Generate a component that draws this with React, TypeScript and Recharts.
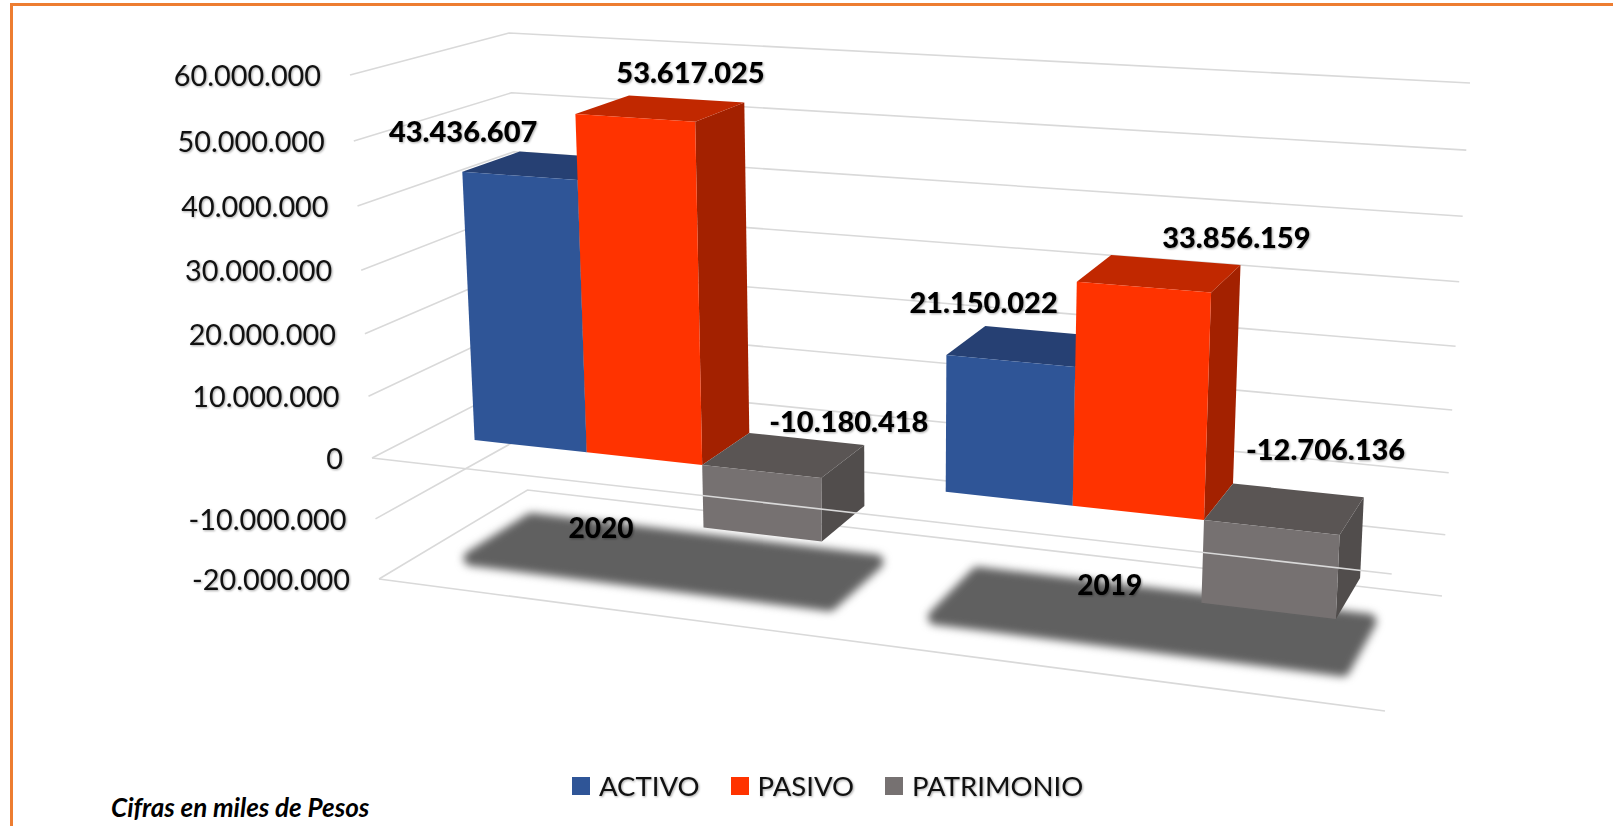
import { Bar, BarChart, CartesianGrid, LabelList, Legend, ReferenceLine, XAxis, YAxis } from "recharts";

const categories = ["2020", "2019"];
const activo = [43436607, 21150022];
const pasivo = [53617025, 33856159];
const patrimonio = [-10180418, -12706136];
const yTicks = [-20000000, -10000000, 0, 10000000, 20000000, 30000000, 40000000, 50000000, 60000000];

const data = categories.map((year, i) => ({
  year,
  activo: activo[i],
  pasivo: pasivo[i],
  patrimonio: patrimonio[i],
}));

const WIDTH = 1613;
const HEIGHT = 826;
const PLOT = { left: 60, top: 40, width: 1500, height: 686 };
const FONT = "Lato, sans-serif";
const GRID = "#d9d9d9";
const TEXT_SHADOW = "drop-shadow(1px 1px 1px rgba(0,0,0,0.35))";

// screen corners of the 3D box: F/B = front/back, L/R = left/right, top = 60M, bot = -20M
const FL = { top: [350, 75], bot: [379, 579] };
const FR = { top: [1413, 140], bot: [1385, 711] };
const BL = { top: [509, 33], bot: [527.5, 490] };
const BR = { top: [1470, 83], bot: [1442, 596] };
const BAR_FRONT = 0.31;
const BAR_BACK = 0.69;

const mix = (a: number[], b: number[], k: number) => [a[0] + (b[0] - a[0]) * k, a[1] + (b[1] - a[1]) * k];

// flat chart pixel -> picture pixel, w is depth (0 front, 1 back)
function project(flatX: number, flatY: number, w: number) {
  const U = (flatX - PLOT.left) / PLOT.width;
  const t0 = (PLOT.top + PLOT.height - flatY) / PLOT.height;
  const u = (0.88 * U) / (1 - 0.12 * U);
  const t = t0 - 0.053 * t0 * (1 - t0);
  const left = mix(mix(FL.bot, FL.top, t), mix(BL.bot, BL.top, t), w);
  const right = mix(mix(FR.bot, FR.top, t), mix(BR.bot, BR.top, t), w);
  return mix(left, right, u);
}

const pts = (list: number[][]) => list.map((p) => `${p[0].toFixed(1)},${p[1].toFixed(1)}`).join(" ");

const FLOOR_Y = PLOT.top + PLOT.height;

function makeBar(front: string, top: string, side: string, withShadow: boolean) {
  return function Bar3D(props: any) {
    const { x, y, width, height } = props;
    const y1 = Math.min(y, y + height);
    const y2 = Math.max(y, y + height);
    const x2 = x + width;
    const a = project(x, y1, BAR_FRONT);
    const b = project(x2, y1, BAR_FRONT);
    const c = project(x2, y2, BAR_FRONT);
    const d = project(x, y2, BAR_FRONT);
    const e = project(x, y1, BAR_BACK);
    const f = project(x2, y1, BAR_BACK);
    const g = project(x2, y2, BAR_BACK);
    const groupLeft = x - 13;
    const groupRight = x + width * 3 + 13;
    return (
      <g>
        {withShadow && (
          <polygon
            points={pts([
              project(groupLeft, FLOOR_Y, 0.3),
              project(groupRight, FLOOR_Y, 0.3),
              project(groupRight, FLOOR_Y, 0.72),
              project(groupLeft, FLOOR_Y, 0.72),
            ])}
            fill="#606060"
            stroke="#606060"
            strokeWidth={15}
            strokeLinejoin="round"
            style={{ filter: "blur(4px)" }}
          />
        )}
        <polygon points={pts([b, f, g, c])} fill={side} />
        <polygon points={pts([a, e, f, b])} fill={top} />
        <polygon points={pts([a, b, c, d])} fill={front} />
      </g>
    );
  };
}

const formatValue = (v: number) => String(v).replace(/\B(?=(\d{3})+(?!\d))/g, ".");

function GridLine(props: any) {
  const { y1 } = props;
  const fl = project(PLOT.left, y1, 0);
  const bl = project(PLOT.left, y1, 1);
  const br = project(PLOT.left + PLOT.width, y1, 1);
  const isFloor = Math.abs(y1 - FLOOR_Y) < 1;
  const fr = project(PLOT.left + PLOT.width, y1, 0);
  return (
    <g key={props.key ?? y1}>
      <polyline points={pts([fl, bl, br])} fill="none" stroke={GRID} strokeWidth={1.6} />
      {isFloor && <line x1={fl[0]} y1={fl[1]} x2={fr[0]} y2={fr[1]} stroke={GRID} strokeWidth={1.6} />}
    </g>
  );
}

function ZeroLine(props: any) {
  const y = props.y1 ?? props.y;
  const a = project(PLOT.left, y, 0);
  const b = project(PLOT.left + PLOT.width, y, 0);
  return <line x1={a[0]} y1={a[1]} x2={b[0]} y2={b[1]} stroke={GRID} strokeWidth={1.6} />;
}

function YTick(props: any) {
  const p = project(PLOT.left, props.y, 0);
  return (
    <text x={p[0] - 29} y={p[1] + 11} textAnchor="end" fontFamily={FONT} fontSize={28.8} fill="#111" style={{ filter: TEXT_SHADOW }}>
      {formatValue(props.payload.value)}
    </text>
  );
}

const yearOffsets = [
  [-70, -33],
  [-40, -36],
];

function YearTick(props: any) {
  const p = project(props.x, FLOOR_Y, 0.5);
  const off = yearOffsets[props.index];
  return (
    <text x={p[0] + off[0]} y={p[1] + off[1] + 10} textAnchor="middle" fontFamily={FONT} fontWeight={900} fontSize={28} fill="#000" style={{ filter: TEXT_SHADOW }}>
      {props.payload.value}
    </text>
  );
}

function makeLabel(offsets: number[][]) {
  return function ValueLabel(props: any) {
    const { x, y, width, height, value, index } = props;
    const p = project(x + width / 2, Math.min(y, y + height), 0.5);
    return (
      <text x={p[0] + offsets[index][0]} y={p[1] + offsets[index][1] + 10} textAnchor="middle" fontFamily={FONT} fontWeight={900} fontSize={29} fill="#000" style={{ filter: TEXT_SHADOW }}>
        {formatValue(value)}
      </text>
    );
  };
}

function LegendRow(props: any) {
  return (
    <div style={{ display: "flex", fontFamily: FONT, fontSize: 27.5, color: "#111", lineHeight: "30px" }}>
      {props.payload.map((item: any) => (
        <div key={item.value} style={{ display: "flex", alignItems: "center", marginRight: 31 }}>
          <span style={{ width: 18, height: 18, background: item.color, marginRight: 9 }} />
          <span style={{ filter: TEXT_SHADOW }}>{item.value}</span>
        </div>
      ))}
    </div>
  );
}

export default function App() {
  return (
    <div style={{ position: "absolute", left: 0, top: 0, width: WIDTH, height: HEIGHT, overflow: "hidden", background: "#fff" }}>
      <div style={{ position: "absolute", left: 10, top: 3, width: 1800, height: 1000, borderTop: "3px solid #ed7d31", borderLeft: "3px solid #ed7d31" }} />
      <BarChart
        width={WIDTH}
        height={HEIGHT}
        data={data}
        margin={{ left: PLOT.left - 1, top: PLOT.top, right: WIDTH - PLOT.left - PLOT.width, bottom: HEIGHT - PLOT.top - PLOT.height - 1 }}
        barCategoryGap="12.7%"
        barGap={0}
        style={{ position: "absolute", left: 0, top: 0 }}
      >
        <CartesianGrid vertical={false} horizontal={GridLine} syncWithTicks />
        <XAxis dataKey="year" height={1} axisLine={false} tickLine={false} interval={0} tick={YearTick} />
        <YAxis type="number" domain={[-20000000, 60000000]} ticks={yTicks} width={1} axisLine={false} tickLine={false} interval={0} tick={YTick} />
        <Legend layout="horizontal" verticalAlign="middle" align="center" content={LegendRow} wrapperStyle={{ left: 572, top: 771, width: 640, bottom: "auto" }} />
        <Bar dataKey="activo" name="ACTIVO" fill="#2f5597" isAnimationActive={false} shape={makeBar("#2f5597", "#264073", "#203864", true)}>
          <LabelList dataKey="activo" content={makeLabel([[-84, -34], [-45, -43]])} />
        </Bar>
        <Bar dataKey="pasivo" name="PASIVO" fill="#ff3300" isAnimationActive={false} shape={makeBar("#ff3300", "#c12800", "#a32100", false)}>
          <LabelList dataKey="pasivo" content={makeLabel([[30, -35], [77, -35]])} />
        </Bar>
        <Bar dataKey="patrimonio" name="PATRIMONIO" fill="#767171" isAnimationActive={false} shape={makeBar("#767171", "#5a5554", "#514d4c", false)}>
          <LabelList dataKey="patrimonio" content={makeLabel([[65, -33], [41, -59]])} />
        </Bar>
        <ReferenceLine y={0} shape={ZeroLine} />
      </BarChart>
      <div style={{ position: "absolute", left: 111, top: 791, fontFamily: FONT, fontStyle: "italic", fontWeight: 700, fontSize: 26, color: "#000" }}>
        Cifras en miles de Pesos
      </div>
    </div>
  );
}
